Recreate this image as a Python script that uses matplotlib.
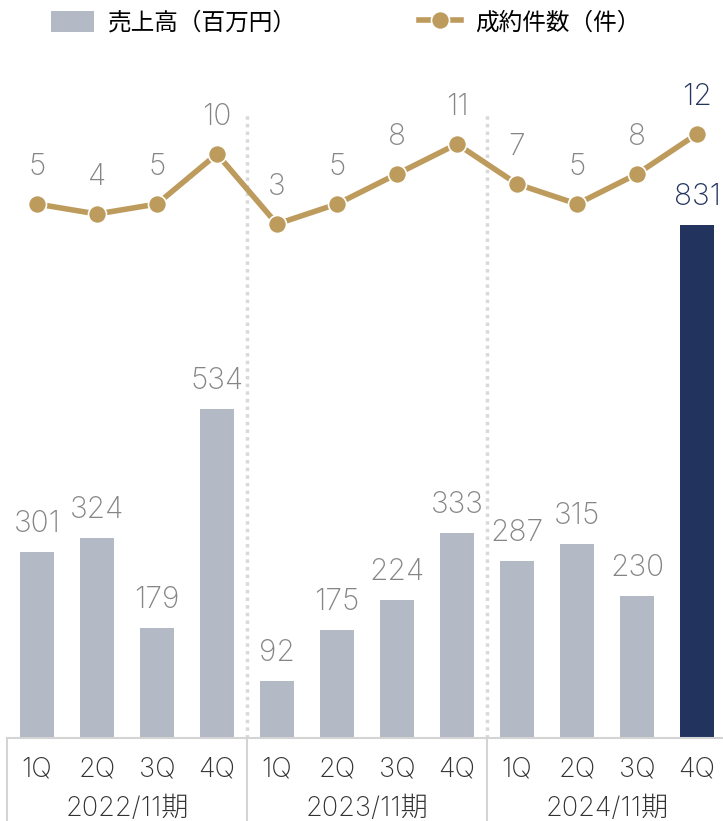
import numpy as np
import matplotlib
matplotlib.use('Agg')
import matplotlib.pyplot as plt
import matplotlib.transforms as mtransforms
from matplotlib.patches import Patch
from matplotlib.lines import Line2D

plt.rcParams['font.family'] = ['Inter', 'Noto Sans CJK JP', 'DejaVu Sans']
plt.rcParams['font.weight'] = 'normal'

quarters = ['1Q', '2Q', '3Q', '4Q'] * 3
periods = ['2022/11期', '2023/11期', '2024/11期']
sales = [301, 324, 179, 534, 92, 175, 224, 333, 287, 315, 230, 831]
deals = [5, 4, 5, 10, 3, 5, 8, 11, 7, 5, 8, 12]

grey = '#b3b9c5'
navy = '#22335e'
gold = '#bd9b5c'
label_grey = '#858585'
line_grey = '#d4d4d4'

W, H = 723, 821
fig = plt.figure(figsize=(W / 100, H / 100), dpi=100)
ax = fig.add_axes([7 / W, (H - 738) / H, 720 / W, (738 - 60) / H])
ax2 = ax.twinx()

x = np.arange(len(sales))
colors = [grey] * (len(sales) - 1) + [navy]
ax.bar(x, sales, width=0.57, color=colors, zorder=2)
ax.set_xlim(-0.5, 11.5)
ax.set_ylim(0, 1099)

for xi, v, c in zip(x, sales, colors):
    col = navy if c == navy else label_grey
    ax.annotate(str(v), (xi, v), xytext=(0, 28), textcoords='offset pixels',
                ha='center', va='center', fontsize=21.5, color=col,
                fontweight='light')

ax2.plot(x, deals, color=gold, lw=4, marker='o', ms=13, mfc=gold,
         mec='white', mew=1.2, zorder=3)
ax2.set_ylim(-48.4, 19.4)
for xi, v in zip(x, deals):
    col = navy if xi == len(deals) - 1 else label_grey
    ax2.annotate(str(v), (xi, v), xytext=(0, 37), textcoords='offset pixels',
                 ha='center', va='center', fontsize=21.5, color=col,
                 fontweight='light')

# dotted period separators
for sep in (3.5, 7.5):
    ax.axvline(sep, ymin=0, ymax=0.92, color='#d9d9d9', lw=2.5,
               ls=(0, (1, 1.2)), zorder=1)

for a in (ax, ax2):
    for s in ('top', 'right', 'left'):
        a.spines[s].set_visible(False)
    a.set_yticks([])
ax2.spines['bottom'].set_visible(False)
ax.spines['bottom'].set_color(line_grey)
ax.spines['bottom'].set_linewidth(1.5)

ax.set_xticks(x)
ax.set_xticklabels(quarters, fontsize=19.5, color='#333333', fontweight='light')
ax.tick_params(axis='x', length=0, pad=13)

trans = mtransforms.blended_transform_factory(ax.transData, ax.transAxes)
for i, p in enumerate(periods):
    ax.text(4 * i + 1.5, -0.104, p, transform=trans, ha='center', va='center',
            fontsize=19.5, color='#333333', fontweight='light')
for b in (-0.5, 3.5, 7.5):
    ax.plot([b, b], [0, -0.13], transform=trans, color=line_grey, lw=1.5,
            clip_on=False)

handles = [Patch(facecolor=grey, edgecolor='none'),
           Line2D([], [], color=gold, lw=4, marker='o', ms=13, mfc=gold,
                  mec='white', mew=1.2)]
fig.legend(handles, ['売上高（百万円）', '成約件数（件）'], loc='center left',
           bbox_to_anchor=(30 / W, 1 - 23 / H), ncol=2, frameon=False,
           fontsize=17, handlelength=1.8, handleheight=1.0,
           columnspacing=5.15, handletextpad=0.6)

fig.savefig('out.png', dpi=100)
